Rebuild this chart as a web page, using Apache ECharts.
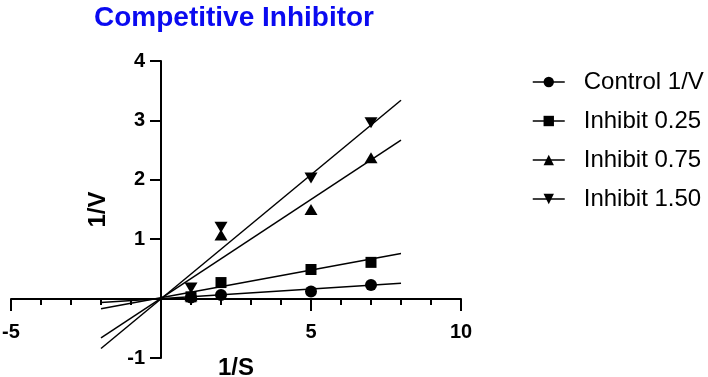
<!DOCTYPE html>
<html>
<head>
<meta charset="utf-8">
<script src="https://cdn.jsdelivr.net/npm/echarts@6/dist/echarts.min.js"></script>
<style>
  html, body { margin: 0; padding: 0; background: #fff; }
  #chart { width: 708px; height: 377px; }
</style>
</head>
<body>
<div id="chart"></div>
<script>
// substrate (1/S) values
const sValues = [1, 2, 5, 7]
// measured 1/V for each condition
const control = [0.02, 0.06, 0.12, 0.23]
const inhibit025 = [0.03, 0.27, 0.49, 0.61]
const inhibit075 = [0.05, 1.07, 1.5, 2.37]
const inhibit150 = [0.18, 1.2, 2.03, 2.96]
// fitted lines, evaluated at the two ends of the fit range
const fitX = [-2, 8]
const fitControl = [-0.065, 0.26]
const fitInhibit025 = [-0.17, 0.76]
const fitInhibit075 = [-0.66, 2.67]
const fitInhibit150 = [-0.84, 3.34]

const names = ['Control 1/V', 'Inhibit 0.25', 'Inhibit 0.75', 'Inhibit 1.50']
const symbols = ['circle', 'rect', 'triangle', 'path://M0,0 L10,0 L5,9 Z']
const sizes = [12, 11, [13, 11], [13, 11]]

const font = 'Arial, "Liberation Sans", sans-serif'
const chart = echarts.init(document.getElementById('chart'))

const pair = (xs, ys) => xs.map((x, i) => [x, ys[i]])

const pointSeries = [control, inhibit025, inhibit075, inhibit150].map((ys, i) => ({
  name: names[i],
  type: 'line',
  data: pair(sValues, ys),
  symbol: symbols[i],
  symbolSize: sizes[i],
  showAllSymbol: true,
  itemStyle: { color: '#000' },
  lineStyle: { opacity: 0 },
  z: 3
}))

const fitSeries = [fitControl, fitInhibit025, fitInhibit075, fitInhibit150].map(ys => ({
  type: 'line',
  data: pair(fitX, ys),
  showSymbol: false,
  silent: true,
  lineStyle: { color: '#000', width: 1.5 },
  z: 2
}))

// axes cross at 0: shift them in from the grid edges so labels follow the lines
const xAxisShift = -59
const yAxisShift = -150

const option = {
  animation: false,
  title: {
    text: 'Competitive Inhibitor',
    left: 89,
    top: -1,
    textStyle: { color: '#0a0af0', fontSize: 28, fontWeight: 'bold', fontFamily: font }
  },
  legend: {
    data: names,
    orient: 'vertical',
    left: 527,
    top: 65,
    itemWidth: 32,
    itemHeight: 13,
    itemGap: 15,
    lineStyle: { color: '#000', width: 1.5, opacity: 1 },
    textStyle: { color: '#000', fontSize: 24, fontFamily: font, padding: [0, 0, 0, 14] }
  },
  grid: { left: 11, right: 247, top: 61, bottom: 19, outerBoundsMode: 'none' },
  xAxis: {
    type: 'value',
    min: -5,
    max: 10,
    interval: 5,
    offset: xAxisShift,
    name: '1/S',
    nameLocation: 'middle',
    nameGap: 57,
    nameTextStyle: { color: '#000', fontSize: 24, fontWeight: 'bold', fontFamily: font },
    axisLine: { onZero: false, lineStyle: { color: '#000', width: 2 } },
    axisTick: { show: true, length: 12, lineStyle: { color: '#000', width: 2 } },
    minorTick: { show: true, splitNumber: 5, length: 6, lineStyle: { color: '#000', width: 2 } },
    splitLine: { show: false },
    axisLabel: {
      color: '#000', fontSize: 20, fontWeight: 'bold', fontFamily: font, margin: 23,
      formatter: v => (v === 0 ? '' : String(v))
    }
  },
  yAxis: {
    type: 'value',
    min: -1,
    max: 4,
    interval: 1,
    offset: yAxisShift,
    name: '1/V',
    nameLocation: 'middle',
    nameRotate: 90,
    nameGap: 51,
    nameTextStyle: { color: '#000', fontSize: 24, fontWeight: 'bold', fontFamily: font },
    axisLine: { onZero: false, lineStyle: { color: '#000', width: 2 } },
    axisTick: { show: true, length: 11, lineStyle: { color: '#000', width: 2 } },
    splitLine: { show: false },
    axisLabel: {
      color: '#000', fontSize: 20, fontWeight: 'bold', fontFamily: font, margin: 16,
      formatter: v => (v === 0 ? '' : String(v))
    }
  },
  series: fitSeries.concat(pointSeries)
}

chart.setOption(option)
</script>
</body>
</html>
